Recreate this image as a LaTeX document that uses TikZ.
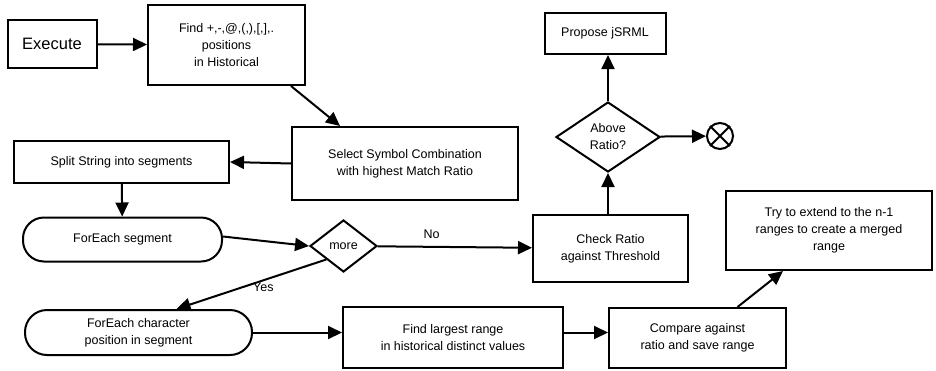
\documentclass[tikz,border=0pt]{standalone}
\usepackage{fontspec}
\setmainfont{Liberation Sans}
\usetikzlibrary{shapes.geometric,arrows.meta}

\begin{document}
\begin{tikzpicture}[x=1pt,y=-1pt,
    font=\fontsize{12.5}{17}\selectfont,
    line width=2pt,
    box/.style={draw,rectangle,align=center,inner sep=0pt},
    loop/.style={draw,rectangle,rounded corners=21pt,align=center,inner sep=0pt},
    test/.style={draw,diamond,align=center,inner sep=0pt},
    >={Triangle[length=14pt,width=13pt]}]
      \useasboundingbox (0,0) rectangle (936,370);
      \node[box,minimum width=89pt,minimum height=48pt,font=\fontsize{16.5}{20}\selectfont] (a) at (52,44) {Execute};
      \node[box,minimum width=157pt,minimum height=80pt] (b) at (226.5,45) {Find +,-,@,(,),[,],.\\positions\\in Historical};
      \node[box,minimum width=226pt,minimum height=73pt] (c) at (405,163.5) {Select Symbol Combination\\with highest Match Ratio};
      \node[box,minimum width=215pt,minimum height=42pt] (d) at (121.5,162) {Split String into segments};
      \node[loop,minimum width=199pt,minimum height=44pt] (e) at (122.5,239.5) {ForEach segment};
      \node[test,minimum width=67pt,minimum height=52pt] (f) at (343.5,246) {more};
      \node[box,minimum width=155pt,minimum height=67pt] (g) at (610.5,248.5) {Check Ratio\\against Threshold};
      \node[test,minimum width=104pt,minimum height=70pt] (i) at (608,137) {Above\\Ratio?};
      \node[box,minimum width=121pt,minimum height=41pt] (j) at (605,33.5) {Propose jSRML};
      \node[draw,circle,minimum size=26pt,inner sep=0pt] (k) at (720,136) {};
      \node[loop,rounded corners=22pt,minimum width=227pt,minimum height=45pt] (h) at (138.5,332.5) {ForEach character\\position in segment};
      \node[box,minimum width=220pt,minimum height=61pt] (l) at (453,337.5) {Find largest range\\in historical distinct values};
      \node[box,minimum width=177pt,minimum height=60pt] (m) at (697.5,338) {Compare against\\ratio and save range};
      \node[box,minimum width=206pt,minimum height=79pt] (n) at (829,230.5) {Try to extend to the n-1\\ranges to create a merged\\range};
      \draw (k.45) -- (k.225);
      \draw (k.135) -- (k.315);
      \draw [->] (a) -- (b);
      \draw [->] ([xshift=-15pt]b.south east) -- ([xshift=-65pt]c.north);
      \draw [->] (c.west) -- (d.east);
      \draw [->] (d) -- (e);
      \draw [->] ([yshift=3pt]e.east) -- (f.west);
      \draw [->] (f) to node[pos=0.35,above=4pt] {No} (g);
      \draw [->] (f.south west) to node[pos=0.42,below,inner sep=2pt] {Yes} ([xshift=38pt]h.north);
      \draw [->] (g.north -| i.south) -- (i.south);
      \draw [->] (i.north) -- (i.north |- j.south);
      \draw [->] (i) -- (k);
      \draw [->] (h.east) -- (h.east -| l.west);
      \draw [->] (h.east -| l.east) -- (h.east -| m.west);
      \draw [->] ([xshift=40pt]m.north) -- ([xshift=-46pt]n.south);
    \end{tikzpicture}
\end{document}
